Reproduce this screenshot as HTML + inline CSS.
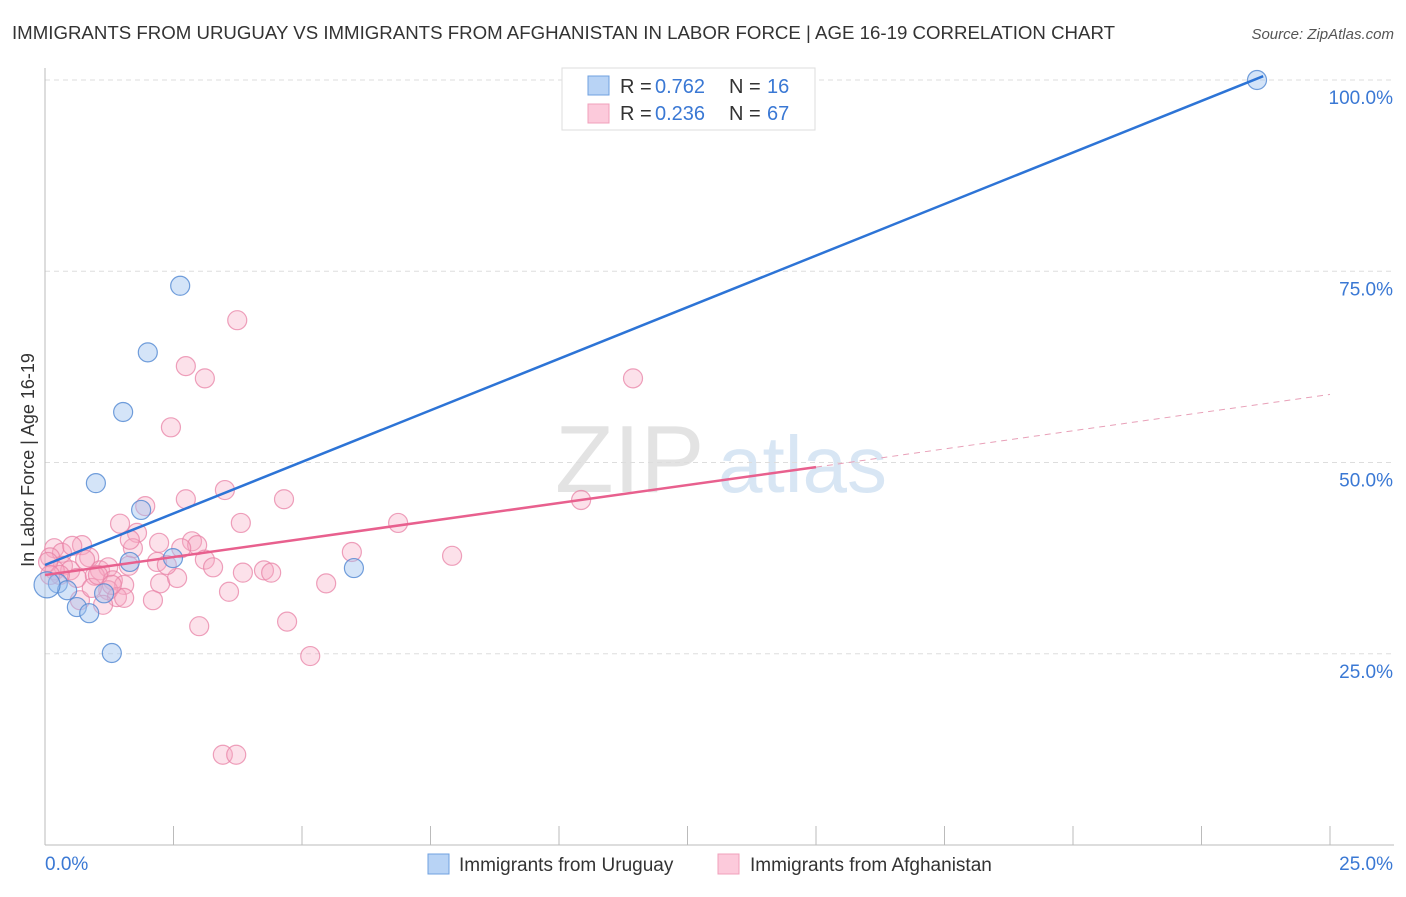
<!DOCTYPE html>
<html><head><meta charset="utf-8"><style>
body{margin:0;background:#fff;font-family:"Liberation Sans",sans-serif}
svg text{font-family:"Liberation Sans",sans-serif}
</style></head><body>
<svg id="c" width="1406" height="892" xmlns="http://www.w3.org/2000/svg">
<text x="12" y="39" font-size="18" fill="#333" textLength="1103" lengthAdjust="spacingAndGlyphs">IMMIGRANTS FROM URUGUAY VS IMMIGRANTS FROM AFGHANISTAN IN LABOR FORCE | AGE 16-19 CORRELATION CHART</text>
<text x="1394" y="39" font-size="15" fill="#555" text-anchor="end" font-style="italic">Source: ZipAtlas.com</text>
<text x="34" y="460" font-size="18" fill="#333" text-anchor="middle" transform="rotate(-90 34 460)">In Labor Force | Age 16-19</text>
<g><text x="555" y="492" font-size="96" fill="#ddd" font-family="Liberation Serif" opacity="0.8">ZIP</text><text x="718" y="492" font-size="80" fill="#cfe0f2" opacity="0.8">atlas</text></g>
<g id="grid"></g><g id="marks"></g>
<g>
<rect x="562" y="68" width="253" height="62" fill="#fff" stroke="#ddd"/>
<rect x="588" y="76" width="21" height="19" fill="#b8d3f5" stroke="#6fa0e0"/>
<rect x="588" y="104" width="21" height="19" fill="#fccadb" stroke="#f0a0bb"/>
<text x="620" y="93" font-size="20" fill="#333">R =</text><text x="655" y="93" font-size="20" fill="#3a78d4">0.762</text>
<text x="729" y="93" font-size="20" fill="#333">N =</text><text x="767" y="93" font-size="20" fill="#3a78d4">16</text>
<text x="620" y="120" font-size="20" fill="#333">R =</text><text x="655" y="120" font-size="20" fill="#3a78d4">0.236</text>
<text x="729" y="120" font-size="20" fill="#333">N =</text><text x="767" y="120" font-size="20" fill="#3a78d4">67</text>
</g>
<g>
<rect x="428" y="854" width="21" height="20" fill="#b8d3f5" stroke="#6fa0e0"/>
<text x="459" y="871" font-size="19" fill="#333">Immigrants from Uruguay</text>
<rect x="718" y="854" width="21" height="20" fill="#fccadb" stroke="#f0a0bb"/>
<text x="750" y="871" font-size="19" fill="#333">Immigrants from Afghanistan</text>
</g>
</svg>
<script>
const xTicks=[0,2.5,5,7.5,10,12.5,15,17.5,20,22.5,25];
const yTicks=[25,50,75,100];
const yTickLabels=["25.0%","50.0%","75.0%","100.0%"];
const xEndLabels=["0.0%","25.0%"];
const uruguayX=[23.58,2.63,2.0,1.52,0.99,1.87,2.49,1.65,6.01,0.25,0.43,1.15,0.62,0.86,1.30,0.04];
const uruguayY=[100,73.1,64.4,56.6,47.3,43.8,37.5,37.0,36.2,34.2,33.3,32.9,31.1,30.3,25.1,34.0];
const afgX=[3.74,2.74,3.11,11.44,2.45,2.74,3.50,4.65,10.43,1.95,1.46,3.81,6.87,1.79,2.22,2.86,2.96,1.71,2.65,0.18,0.33,0.72,0.53,0.10,0.86,0.35,0.49,1.07,1.23,1.63,2.18,3.11,3.27,3.85,4.26,4.40,5.97,7.92,0.62,0.97,1.32,1.54,2.24,2.57,3.58,5.47,1.23,1.40,1.54,1.13,0.68,2.10,3.00,4.71,5.16,3.46,3.72,0.19,0.06,0.29,0.91,1.03,1.65,2.37,0.10,0.78,1.30];
const afgY=[68.6,62.6,61.0,61.0,54.6,45.2,46.4,45.2,45.1,44.3,42.0,42.1,42.1,40.8,39.5,39.7,39.2,38.8,38.8,38.8,38.2,39.2,39.1,37.6,37.6,36.5,35.9,35.9,36.3,36.5,37.0,37.3,36.3,35.6,35.9,35.6,38.3,37.8,34.9,35.2,34.6,34.0,34.2,34.9,33.1,34.2,33.3,32.4,32.3,31.4,32.0,32.0,28.6,29.2,24.7,11.8,11.8,35.9,37.0,35.3,33.6,35.3,39.9,36.6,35.3,37.3,34.0];
const uruguayTrend=[[0,36.6],[23.7,100.5]];
const afgTrendSolid=[[0,35.3],[15,49.4]];
const afgTrendDash=[[15,49.4],[25,58.9]];
const X=v=>45+v*51.4, Y=v=>845-v*7.65;
const NS="http://www.w3.org/2000/svg";
const grid=document.getElementById('grid'), marks=document.getElementById('marks');
function mk(tag,attrs,parent){const e=document.createElementNS(NS,tag);for(const k in attrs)e.setAttribute(k,attrs[k]);parent.appendChild(e);return e;}
yTicks.forEach((t,i)=>{
 const l=mk('line',{x1:45,x2:1394,y1:Y(t),y2:Y(t),stroke:'#ddd','stroke-dasharray':'5,4'},grid);
 
 
 const tx=mk('text',{x:1393,y:Y(t)+24,'font-size':19,fill:'#3a78d4','text-anchor':'end'},grid);
 tx.textContent=yTickLabels[i];
 
 
});
const ax=mk('line',{x1:45,x2:45,y1:68,y2:845,stroke:'#bbb'},grid);


const bx=mk('line',{x1:45,x2:1394,y1:845,y2:845,stroke:'#bbb'},grid);


xTicks.forEach(t=>{const l=mk('line',{x1:X(t),x2:X(t),y1:826,y2:845,stroke:'#bbb'},grid);
 
 });
[[0,'start'],[25,'end']].forEach((p,i)=>{const tx=mk('text',{x:i?1393:45,y:870,'font-size':19,fill:'#3a78d4','text-anchor':p[1]},grid);tx.textContent=xEndLabels[i];
 
 });
afgX.forEach((v,i)=>{const c=mk('circle',{cx:X(v),cy:Y(afgY[i]),r:9.5,fill:'rgba(246,170,196,0.35)',stroke:'rgba(232,130,165,0.75)','stroke-width':1.2},marks);
 
 });
uruguayX.forEach((v,i)=>{const c=mk('circle',{cx:X(v),cy:Y(uruguayY[i]),r:i==15?13:9.5,fill:'rgba(160,195,240,0.45)',stroke:'rgba(80,135,210,0.8)','stroke-width':1.2},marks);
 
 });
function line(p,col,dash,name){const l=mk('line',{x1:X(p[0][0]),y1:Y(p[0][1]),x2:X(p[1][0]),y2:Y(p[1][1]),stroke:col,'stroke-width':dash?1:2.5},marks);if(dash)l.setAttribute('stroke-dasharray','6,5');
 
 }
line(uruguayTrend,'#2d74d6',false,'uruguay-trend-line');
line(afgTrendSolid,'#e8608e',false,'afghanistan-trend-line');
line(afgTrendDash,'#e8a0b8',true,'afghanistan-trend-extension');
</script>
</body></html>
